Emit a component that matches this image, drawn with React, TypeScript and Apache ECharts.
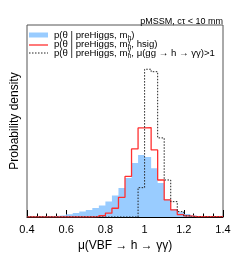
import React, { useEffect, useRef } from 'react';
import * as echarts from 'echarts';

const BIN_LOW = 0.4;
const BIN_HIGH = 1.4;
const N_BINS = 30;

// probability density per bin (30 bins from 0.4 to 1.4)
const blueValues = [0.013, 0.02, 0.03, 0.05, 0.08, 0.12, 0.18, 0.26, 0.36, 0.46, 0.59, 0.75, 1.01, 1.40, 1.89, 2.54, 3.52, 4.04, 3.91, 3.18, 2.22, 1.14, 0.52, 0.31, 0.20, 0.10, 0.05, 0.03, 0.01, 0.01];
const redValues = [0.01, 0.01, 0.01, 0.01, 0.01, 0.01, 0.01, 0.01, 0.01, 0.01, 0.03, 0.08, 0.25, 0.57, 1.28, 2.64, 4.43, 5.80, 5.82, 4.37, 2.41, 1.11, 0.46, 0.16, 0.07, 0.03, 0.03, 0.03, 0.03, 0.03];
const dottedValues = [0, 0, 0, 0, 0, 0, 0, 0, 0, 0, 0, 0, 0, 0, 0, 0, 0, 1.91, 9.62, 9.46, 5.15, 2.41, 1.00, 0.35, 0.07, 0, 0, 0, 0, 0];

const xTickLabels = ['0.4', '0.6', '0.8', '1', '1.2', '1.4'];
const xTitle = 'μ(VBF → h → γγ)';
const yTitle = 'Probability density';
const topText = 'pMSSM, cτ < 10 mm';
const legendRows: [string, string, string, string][] = [
  // [before, superscript, subscript, after]
  ['p(θ | preHiggs, m', '', 'h', ')'],
  ['p(θ | preHiggs, m', 'γ', 'h', ', hsig)'],
  ['p(θ | preHiggs, m', 'γ', 'h', ', μ(gg → h → γγ)>1'],
];

const FONT = 'Liberation Sans';

function stepData(values: number[]) {
  const w = (BIN_HIGH - BIN_LOW) / N_BINS;
  const pts: [number, number][] = values.map((v, k) => [BIN_LOW + k * w, v]);
  pts.push([BIN_HIGH, values[values.length - 1]]);
  return pts;
}

function measure(text: string, size: number) {
  const c = document.createElement('canvas').getContext('2d');
  if (!c) return text.length * size * 0.5;
  c.font = `${size}px "${FONT}"`;
  return c.measureText(text).width;
}

export default function App() {
  const ref = useRef<HTMLDivElement>(null);
  useEffect(() => {
    if (!ref.current) return;
    const chart = echarts.init(ref.current, null, { renderer: 'svg' });

    const graphics: any[] = [];
    const swX0 = 29, swX1 = 48, txtX = 54;
    const rowY = [34.5, 43.5, 52.5];
    const fs = 9.6;
    graphics.push({ type: 'rect', shape: { x: swX0, y: 32.5, width: swX1 - swX0, height: 5 }, style: { fill: '#99ccff' } });
    graphics.push({ type: 'line', shape: { x1: swX0, y1: 45, x2: swX1, y2: 45 }, style: { stroke: '#ff3030', lineWidth: 1.3 } });
    graphics.push({ type: 'line', shape: { x1: swX0, y1: 53, x2: swX1, y2: 53 }, style: { stroke: '#222', lineWidth: 1, lineDash: [1.5, 1.5] } });
    legendRows.forEach((row, i) => {
      const y = rowY[i];
      let x = txtX;
      const [before, sup, sub, after] = row;
      graphics.push({ type: 'text', x, y, style: { text: before, fontFamily: FONT, fontSize: fs, fill: '#000', verticalAlign: 'middle' } });
      x += measure(before, fs) + 0.3;
      let adv = 0;
      if (sup) {
        graphics.push({ type: 'text', x, y: y - 3, style: { text: sup, fontFamily: FONT, fontSize: 6.5, fill: '#000', verticalAlign: 'middle' } });
        adv = Math.max(adv, measure(sup, 6.5));
      }
      if (sub) {
        graphics.push({ type: 'text', x, y: y + 3, style: { text: sub, fontFamily: FONT, fontSize: 6.5, fill: '#000', verticalAlign: 'middle' } });
        adv = Math.max(adv, measure(sub, 6.5));
      }
      x += adv;
      graphics.push({ type: 'text', x, y, style: { text: after, fontFamily: FONT, fontSize: fs, fill: '#000', verticalAlign: 'middle' } });
    });
    graphics.push({ type: 'text', x: 223, y: 20.5, style: { text: topText, fontFamily: FONT, fontSize: 9, fill: '#000', align: 'right', verticalAlign: 'middle' } });

    chart.setOption({
      animation: false,
      grid: { left: 25, right: 26, top: 25, bottom: 40, show: true, borderColor: '#555', borderWidth: 1, backgroundColor: 'transparent' },
      xAxis: {
        type: 'value', min: BIN_LOW, max: BIN_HIGH, interval: 0.2,
        axisLine: { show: true, onZero: false, lineStyle: { color: '#000', width: 1 } },
        axisTick: { show: true, inside: true, length: 7, lineStyle: { color: '#000' } },
        minorTick: { show: true, splitNumber: 4, length: 3.5, lineStyle: { color: '#000' } },
        splitLine: { show: false },
        axisLabel: {
          margin: 6, fontFamily: FONT, fontSize: 11, color: '#000',
          formatter: (v: number) => xTickLabels[Math.round((v - BIN_LOW) / 0.2)] ?? '',
        },
        name: xTitle, nameLocation: 'middle', nameGap: 21,
        nameTextStyle: { fontFamily: FONT, fontSize: 12, color: '#000' },
      },
      yAxis: {
        type: 'value', min: 0, max: 12.5,
        axisLine: { show: false }, axisTick: { show: false }, axisLabel: { show: false }, splitLine: { show: false },
        name: yTitle, nameLocation: 'middle', nameGap: 7,
        nameTextStyle: { fontFamily: FONT, fontSize: 12, color: '#000' },
      },
      series: [
        {
          type: 'line', step: 'end', data: stepData(blueValues), symbol: 'none',
          lineStyle: { width: 0, color: '#99ccff' }, areaStyle: { color: '#99ccff', opacity: 1 }, z: 1,
        },
        {
          type: 'line', step: 'end', data: stepData(redValues), symbol: 'none',
          lineStyle: { width: 1.3, color: '#ff3030' }, z: 2,
        },
        {
          type: 'line', step: 'end', data: stepData(dottedValues), symbol: 'none',
          lineStyle: { width: 1, color: '#222', type: [1.5, 1.5] }, z: 3,
        },
      ],
      graphic: graphics,
    });
    return () => chart.dispose();
  }, []);
  return <div ref={ref} style={{ position: 'fixed', left: 0, top: 0, width: 249, height: 257 }} />;
}
